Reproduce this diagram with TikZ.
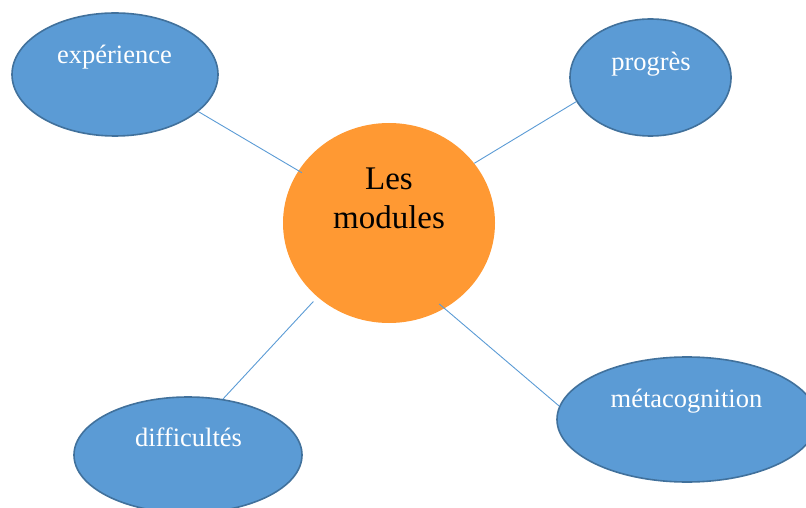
\documentclass[tikz,border=0pt]{standalone}
\usepackage{fontspec}
\setmainfont{Liberation Serif}
\usetikzlibrary{shapes.geometric}
\definecolor{bluefill}{HTML}{5B9BD5}
\definecolor{blueborder}{HTML}{41719C}
\definecolor{orangefill}{HTML}{FF9933}
\definecolor{linkblue}{HTML}{5B9BD5}
\begin{document}
\begin{tikzpicture}[x=1bp,y=-1bp,
  leaf/.style={ellipse, fill=bluefill, draw=blueborder, line width=1.6bp, inner sep=0pt},
  leaftext/.style={anchor=base, text=white, inner sep=0pt, font=\fontsize{26.5bp}{30bp}\selectfont},
  hubtext/.style={anchor=base, text=black, inner sep=0pt, font=\fontsize{33bp}{38bp}\selectfont},
  link/.style={draw=linkblue, line width=0.9bp}]
\useasboundingbox (0,0) rectangle (806,508);
\clip (0,0) rectangle (806,508);
\node[ellipse, fill=orangefill, inner sep=0pt, minimum width=212bp, minimum height=200bp] (mod) at (389,223) {};
\node[leaf, minimum width=206bp, minimum height=123bp] (exp) at (115,74.5) {};
\node[leaf, minimum width=161bp, minimum height=117bp] (prog) at (650.5,77.5) {};
\node[leaf, minimum width=228bp, minimum height=116bp] (diff) at (188,455) {};
\node[leaf, minimum width=260bp, minimum height=125bp] (meta) at (687,419.5) {};
\node[hubtext] (modt1) at (389,190) {Les};
\node[hubtext] (modt2) at (389,228.3) {modules};
\node[leaftext] (expt) at (114.5,64) {expérience};
\node[leaftext] (progt) at (651,70.7) {progrès};
\node[leaftext] (difft) at (188.5,446.7) {difficultés};
\node[leaftext] (metat) at (686.5,407.7) {métacognition};
\draw[link, shorten >=-4bp] (exp.-24) -- (mod.150);
\draw[link] (prog.198) -- (mod.35);
\draw[link, shorten >=6bp] (diff.58) -- (mod.226);
\draw[link, shorten >=-7bp] (meta.174) -- (mod.-57);
\end{tikzpicture}
\end{document}
